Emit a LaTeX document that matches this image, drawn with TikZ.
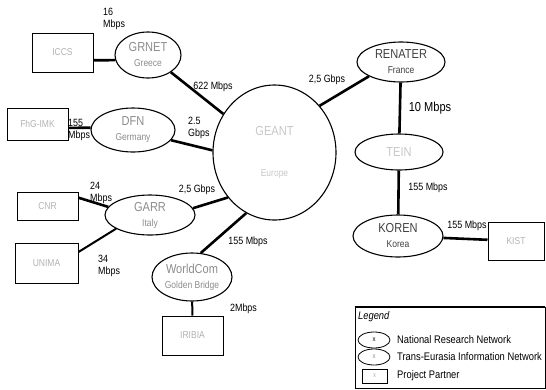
\documentclass[tikz,border=0pt]{standalone}
\usepackage{fontspec}
\setmainfont{Liberation Sans}[FakeStretch=0.85]
\usepackage{tikz}
\usetikzlibrary{shapes.geometric}

\newcommand{\namesize}{\fontsize{13}{15}\selectfont}
\newcommand{\landsize}{\fontsize{10}{12}\selectfont}
\newcommand{\ratesize}{\fontsize{10.5}{12}\selectfont}
\newcommand{\legsize}{\fontsize{11}{13}\selectfont}

\begin{document}
\begin{tikzpicture}[x=1pt,y=-1pt,
  nren/.style={ellipse,draw,line width=1.1pt,inner sep=0pt,align=center,
    text=black!45,font=\namesize},
  partner/.style={rectangle,draw,line width=1pt,inner sep=0pt,
    text=black!30,font=\landsize},
  link/.style={line width=2.6pt},
  rate/.style={inner sep=0pt,align=left,font=\ratesize}]
\useasboundingbox (0,0) rectangle (546,389);

% backbone and national networks
\node[nren,minimum width=123,minimum height=135,text=black!22] (geant) at (274.5,152.5)
  {GEANT\\[26pt]{\landsize Europe}};
\node[nren,minimum width=66,minimum height=46] (grnet) at (148,55) {GRNET\\{\landsize Greece}};
\node[nren,minimum width=84,minimum height=44] (dfn) at (133,130) {DFN\\{\landsize Germany}};
\node[nren,minimum width=90,minimum height=40] (garr) at (150,215) {GARR\\{\landsize Italy}};
\node[nren,minimum width=80,minimum height=48] (wcom) at (192,277) {WorldCom\\{\landsize Golden Bridge}};
\node[nren,minimum width=88,minimum height=40,text=black!75] (renater) at (401,62) {RENATER\\{\landsize France}};
\node[nren,minimum width=88,minimum height=36,text=black!22] (tein) at (399,152) {TEIN};
\node[nren,minimum width=90,minimum height=42,text=black!75] (koren) at (398,236) {KOREN\\{\landsize Korea}};

% project partners
\node[partner,minimum width=61,minimum height=39] (iccs) at (62.5,52.5) {ICCS};
\node[partner,minimum width=61,minimum height=32] (fhg) at (37.5,124) {FhG-IMK};
\node[partner,minimum width=61,minimum height=28] (cnr) at (47.5,206) {CNR};
\node[partner,minimum width=63,minimum height=40] (unima) at (46.5,263) {UNIMA};
\node[partner,minimum width=61,minimum height=39] (iribia) at (192.5,335.5) {IRIBIA};
\node[partner,minimum width=56,minimum height=38] (kist) at (516,241) {KIST};

% links
\draw[link] (iccs.-14) -- (grnet.189);
\draw[link] (fhg.-7) -- (dfn.177);
\draw[link] (cnr.15) -- (garr.169);
\draw[link,line width=2pt] (unima.19) -- (garr.202);
\draw[link] (grnet.-37) -- (geant.143);
\draw[link] (dfn.-15) -- (geant.178);
\draw[link] (garr.9) -- (geant.224);
\draw[link] (wcom.70) -- (geant.245);
\draw[link,line width=2pt] (wcom) -- (iribia);
\draw[link] (geant.46) -- (renater.204);
\draw[link] (renater) -- (tein);
\draw[link] (tein) -- (koren);
\draw[link] (koren) -- (kist);

% rates
\node[rate,anchor=north west] (r16) at (103,8) {16\\Mbps};
\node[rate] (r622) at (213,87) {622 Mbps};
\node[rate,anchor=west] (r155a) at (68,130) {155\\Mbps};
\node[rate,anchor=west] (r25a) at (188,128) {2.5\\Gbps};
\node[rate,anchor=west] (r24) at (90,193) {24\\Mbps};
\node[rate] (r25b) at (197,190) {2,5 Gbps};
\node[rate,anchor=west] (r34) at (98,266) {34\\Mbps};
\node[rate] (r155b) at (248,242) {155 Mbps};
\node[rate] (r2) at (243.5,309) {2Mbps};
\node[rate] (r25c) at (327,80) {2,5 Gbps};
\node[rate,font=\fontsize{13}{15}\selectfont] (r10) at (430,108) {10 Mbps};
\node[rate] (r155c) at (428,188) {155 Mbps};
\node[rate] (r155d) at (467,226) {155 Mbps};

% legend
\node[draw,line width=0.8pt,minimum width=190,minimum height=81,inner sep=0pt] (legend) at (450,347.5) {};
\draw[line width=2pt] (legend.north west) -- (legend.north east);
\node[anchor=west,inner sep=0pt,font=\legsize\itshape] (legtitle) at (358,317) {Legend};
\node[nren,line width=0.8pt,minimum width=32,minimum height=16,text=black,font=\fontsize{7}{8}\selectfont] (legnren) at (374,340) {x};
\node[nren,line width=0.8pt,minimum width=32,minimum height=16,font=\fontsize{7}{8}\selectfont] (legtein) at (374,357) {x};
\node[partner,line width=0.8pt,minimum width=25,minimum height=14,font=\fontsize{7}{8}\selectfont] (legpart) at (374.5,376) {x};
\node[anchor=west,inner sep=0pt,font=\legsize] at (397,340) {National Research Network};
\node[anchor=west,inner sep=0pt,font=\legsize] at (397,357) {Trans-Eurasia Information Network};
\node[anchor=west,inner sep=0pt,font=\legsize] at (397,376) {Project Partner};
\end{tikzpicture}
\end{document}
